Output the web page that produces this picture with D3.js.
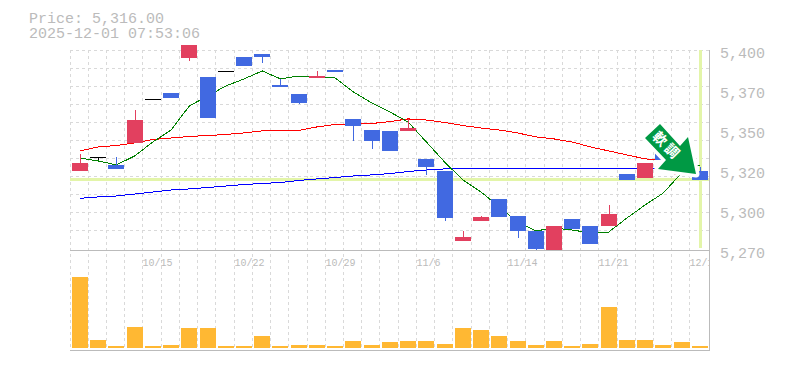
<!DOCTYPE html>
<html>
<head>
<meta charset="utf-8">
<script src="https://cdn.jsdelivr.net/npm/d3@7"></script>
<style>
  html, body { margin: 0; padding: 0; background: #fff; }
  svg { display: block; }
  text { font-family: "Liberation Mono", monospace; fill: #bbb; }
</style>
</head>
<body>
<svg id="chart" width="785" height="370"></svg>
<script>
const titleLines = ['Price: 5,316.00', '2025-12-01 07:53:06'];
const lastPrice = 5316;
const arrowLabel = '軟調';

const dates = ['10/9','10/10','10/11','10/14','10/15','10/16','10/17','10/18','10/21','10/22','10/23','10/24','10/25','10/28','10/29','10/30','10/31','11/1','11/5','11/6','11/7','11/8','11/11','11/12','11/14','11/15','11/18','11/19','11/20','11/21','11/25','11/26','11/27','11/28','12/1'];
const dateTicks = ['10/15','10/22','10/29','11/6','11/14','11/21','12/1'];

const priceTicks = [5399, 5373, 5347, 5321, 5295, 5269];
const priceLabels = ['5,400', '5,370', '5,350', '5,320', '5,300', '5,270'];

const opens = [5321.7,5330.6,5325.6,5339.9,5368.3,5372.4,5395.1,5382.8,5386.5,5395.8,5397.7,5377.6,5371.7,5382.1,5387.3,5355.5,5348.3,5347.7,5347.7,5329.5,5321.7,5276.2,5289.2,5303.5,5292.4,5282.7,5269.7,5290.5,5285.9,5285.9,5319.7,5317.1,5335,5319.1,5321.7];
const highs = [5332.7,5330.6,5330.8,5361.3,5368.3,5372.4,5403.6,5382.8,5386.5,5395.8,5397.7,5381.5,5371.7,5386.7,5387.3,5355.5,5348.3,5347.7,5355.5,5329.5,5321.7,5282.7,5292.4,5303.5,5292.4,5282.7,5285.9,5290.5,5285.9,5299.6,5319.7,5326.9,5335,5321,5324.3];
const lows = [5321.7,5328.8,5323,5339.9,5368.3,5369.1,5393.2,5356.1,5386.5,5389.9,5391.9,5376.3,5365.2,5382.1,5386,5341.2,5336,5334.7,5347.7,5319.1,5289.2,5276.2,5289.2,5291.8,5278.1,5269.7,5269.7,5284,5274.2,5285.9,5315.8,5317.1,5328.8,5319.1,5316];
const closes = [5326.9,5330.6,5323,5354.8,5368.3,5369.1,5403.6,5356.1,5386.5,5389.9,5395.8,5376.3,5365.9,5383.4,5386,5350.9,5341.2,5334.7,5349.6,5324.3,5291.1,5278.8,5291.8,5291.8,5282.7,5271,5285.9,5284,5274.2,5293.7,5315.8,5326.9,5328.8,5321,5316];
const volumes = [7100,800,200,2100,200,300,2000,2000,200,200,1200,200,300,300,200,700,300,600,700,700,400,2000,1800,1200,700,300,700,200,400,4100,800,800,300,600,200];

const maShort = [5330.1,5328.2,5325.6,5331.4,5340.5,5348.3,5363.9,5370.4,5376.9,5381.5,5386.7,5381.5,5383.4,5382.8,5382.1,5373,5365.9,5360,5353.5,5340.5,5327.5,5315.8,5308,5298.3,5288.5,5282.7,5284.6,5283.3,5281.4,5282,5291.1,5299.6,5307.4,5320.4,5325.6];
const maMid = [5334.7,5337.3,5338.2,5339.9,5342.1,5343.1,5344.1,5344.7,5345.4,5346.4,5347.7,5347.7,5348,5350.3,5351.9,5352.2,5352.5,5353.8,5355.5,5354.8,5353.2,5351.2,5349.6,5348.3,5346.4,5343.8,5342.5,5340.5,5337.3,5334.7,5332.1,5329.5,5328.8];
const maLong = [5303.9,5304.8,5305.4,5306.7,5308,5309.3,5310,5310.9,5311.9,5312.9,5313.5,5314.2,5315.5,5316.5,5317.4,5318.4,5319.1,5320,5321.3,5322.3,5323,5323,5323,5323,5323,5323,5323,5323,5323,5323,5323.6,5323.6,5323.6];

const svg = d3.select('#chart');

// scales
const x = d3.scaleBand().domain(d3.range(dates.length)).range([70.8, 709]);
const y = d3.scaleLinear().domain([5269, 5399]).range([252, 52]);
const yVol = d3.scaleLinear().domain([0, d3.max(volumes)]).range([348, 277]);
const cx = i => x(i) + x.bandwidth() / 2;
const gridX = i => Math.floor(x(i) - 0.8) + 0.5;

svg.append('defs').append('clipPath').attr('id', 'axis-clip')
  .append('rect').attr('x', 0).attr('y', 250).attr('width', 710).attr('height', 30);

// grid
const grid = svg.append('g')
  .attr('stroke', '#d9d9d9').attr('stroke-dasharray', '3,3').attr('shape-rendering', 'crispEdges');
grid.selectAll('line.v').data(d3.range(dates.length)).enter().append('line')
  .attr('class', 'v')
  .attr('x1', gridX).attr('x2', gridX).attr('y1', 50).attr('y2', 350);
grid.selectAll('line.h').data(d3.range(11)).enter().append('line')
  .attr('class', 'h')
  .attr('x1', 70).attr('x2', 709)
  .attr('y1', d => 50.5 + d * 18).attr('y2', d => 50.5 + d * 18);

// current price cross
const cross = svg.append('g').attr('fill', '#e3f5a9').attr('shape-rendering', 'crispEdges');
cross.append('rect').attr('x', 70).attr('width', 639).attr('y', Math.round(y(lastPrice)) - 2).attr('height', 3);
cross.append('rect').attr('x', Math.round(cx(dates.length - 1)) - 1).attr('width', 3).attr('y', 50).attr('height', 198);

// moving averages
const maLine = d3.line().x((d, i) => cx(i)).y(d => y(d));
[[maLong, '#0000ff'], [maMid, '#ff0000'], [maShort, '#008000']].forEach(([vals, color]) => {
  svg.append('path').attr('d', maLine(vals))
    .attr('fill', 'none').attr('stroke', color).attr('stroke-width', 1)
    .attr('shape-rendering', 'crispEdges');
});

// candles
const candleColor = i => closes[i] > opens[i] ? '#e2405f' : closes[i] < opens[i] ? '#4169e1' : '#000';
const candles = svg.append('g').attr('shape-rendering', 'crispEdges')
  .selectAll('g').data(d3.range(dates.length)).enter().append('g');
candles.append('line')
  .attr('x1', i => Math.round(cx(i)) + 0.5).attr('x2', i => Math.round(cx(i)) + 0.5)
  .attr('y1', i => Math.round(y(highs[i]))).attr('y2', i => Math.round(y(lows[i])))
  .attr('stroke', candleColor);
candles.append('rect')
  .attr('x', i => Math.round(cx(i) - 8)).attr('width', 16)
  .attr('y', i => Math.round(y(Math.max(opens[i], closes[i]))))
  .attr('height', i => Math.max(1, Math.round(y(Math.min(opens[i], closes[i]))) - Math.round(y(Math.max(opens[i], closes[i])))))
  .attr('fill', candleColor);

// volume
svg.append('g').attr('shape-rendering', 'crispEdges')
  .selectAll('rect').data(volumes).enter().append('rect')
  .attr('x', (d, i) => Math.round(cx(i) - 8)).attr('width', 16)
  .attr('y', d => Math.round(yVol(d))).attr('height', d => 348 - Math.round(yVol(d)))
  .attr('fill', '#ffb833');

// axis lines
const axes = svg.append('g').attr('stroke', '#bbb').attr('shape-rendering', 'crispEdges');
axes.append('line').attr('x1', 70).attr('x2', 710).attr('y1', 250.5).attr('y2', 250.5);
axes.append('line').attr('x1', 70).attr('x2', 710).attr('y1', 350.5).attr('y2', 350.5);
axes.append('line').attr('x1', 709.5).attr('x2', 709.5).attr('y1', 50).attr('y2', 351);

// tick labels
svg.append('g').selectAll('text').data(priceTicks).enter().append('text')
  .attr('x', 720).attr('y', d => y(d) + 6)
  .attr('font-size', 15)
  .text((d, i) => priceLabels[i]);
svg.append('g').attr('clip-path', 'url(#axis-clip)')
  .selectAll('text').data(dateTicks).enter().append('text')
  .attr('x', d => gridX(dates.indexOf(d)))
  .attr('y', 266)
  .attr('font-size', 10)
  .text(d => d);

// title
svg.selectAll('text.title').data(titleLines).enter().append('text')
  .attr('class', 'title')
  .attr('x', 29).attr('y', (d, i) => 23 + i * 15)
  .attr('font-size', 15)
  .text(d => d);

// forecast arrow, outline is fixed to the icon and not data
const arrow = svg.append('g');
arrow.append('path')
  .attr('d', 'M660,124 L645,138 L666,160 L658,169 L696,174 L688,137 L680,146 Z')
  .attr('fill', '#009944').attr('stroke', '#fff').attr('stroke-width', 7)
  .attr('stroke-linejoin', 'round').attr('paint-order', 'stroke');
arrow.append('text')
  .attr('transform', 'translate(667,146) rotate(45)')
  .attr('text-anchor', 'middle').attr('dy', 5)
  .attr('letter-spacing', 3)
  .attr('font-size', 14).attr('font-weight', 'bold')
  .style('font-family', '"Noto Sans CJK JP"').style('fill', '#fff')
  .text(arrowLabel);
</script>
</body>
</html>
